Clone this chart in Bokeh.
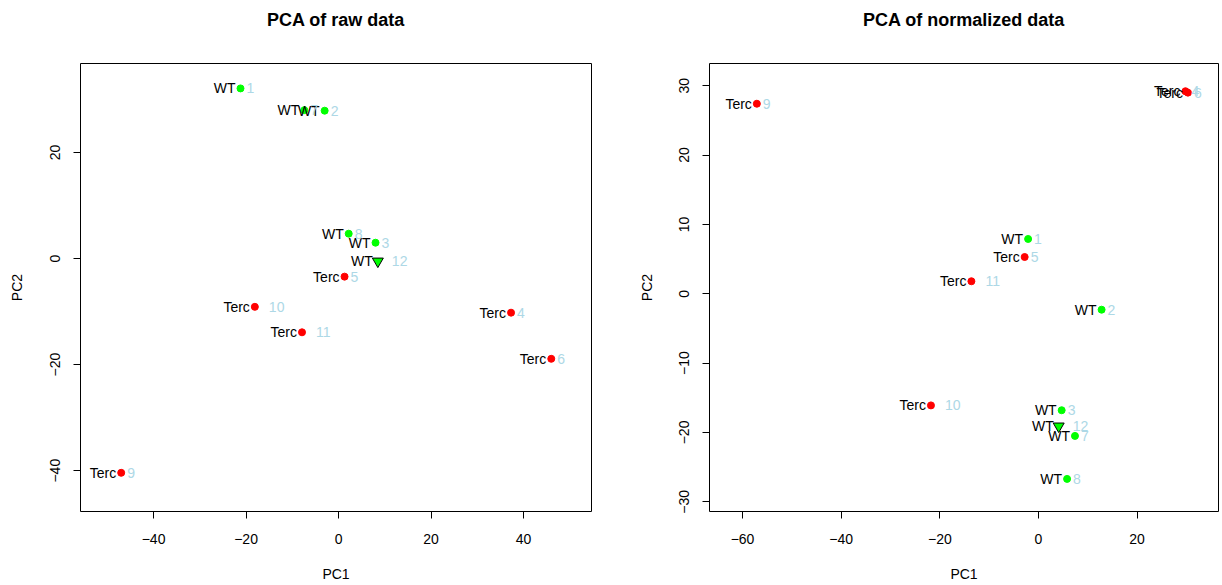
from bokeh.plotting import figure
from bokeh.layouts import row
from bokeh.models import ColumnDataSource, FixedTicker, Range1d, LinearAxis
from bokeh.core.properties import value
from bokeh.embed import file_html
from bokeh.resources import INLINE

# ---- data ----
samples = [1, 2, 3, 4, 5, 6, 7, 8, 9, 10, 11, 12]
groups = ["WT", "WT", "WT", "Terc", "Terc", "Terc", "WT", "WT", "Terc", "Terc", "Terc", "WT"]
markers = ["circle"] * 11 + ["inverted_triangle"]

raw_pc1 = [-21.2, -3.0, 8.0, 37.3, 1.3, 46.0, -7.4, 2.2, -47.0, -18.1, -7.9, 8.5]
raw_pc2 = [32.1, 27.9, 3.0, -10.2, -3.4, -18.9, 28.0, 4.7, -40.4, -9.1, -13.9, -0.5]

norm_pc1 = [-2.1, 12.8, 4.7, 29.8, -2.8, 30.3, 7.4, 5.8, -57.1, -21.8, -13.6, 4.1]
norm_pc2 = [7.9, -2.3, -16.8, 29.2, 5.3, 29.0, -20.5, -26.7, 27.4, -16.1, 1.8, -19.1]

raw_xticks = [-40, -20, 0, 20, 40]
raw_yticks = [-40, -20, 0, 20]
norm_xticks = [-60, -40, -20, 0, 20]
norm_yticks = [-30, -20, -10, 0, 10, 20, 30]

group_colors = {"WT": "#00FF00", "Terc": "#FF0000"}
FONT = "Liberation Sans"


def make_source(xs, ys):
    fill = [group_colors[g] for g in groups]
    line = ["black" if m != "circle" else group_colors[g] for m, g in zip(markers, groups)]
    size = [11 if m != "circle" else 7 for m in markers]
    nums = [str(s) for s in samples]
    num_off = [6 if len(n) == 1 else 14 for n in nums]
    return ColumnDataSource(dict(x=xs, y=ys, grp=groups, num=nums, num_off=num_off,
                                 fill=fill, line=line, size=size, marker=markers))


def make_plot(title, xs, ys, xr, yr, xt, yt, fw, fh, bl, br, ylab_standoff, yaxis_label_standoff):
    p = figure(frame_width=fw, frame_height=fh, x_range=Range1d(*xr), y_range=Range1d(*yr),
               output_backend="svg", toolbar_location=None,
               min_border_left=bl, min_border_right=br, min_border_top=63, min_border_bottom=73)
    p.background_fill_color = "white"
    p.border_fill_color = "white"
    p.outline_line_color = "black"
    p.outline_line_width = 1
    p.grid.visible = False

    xax = p.below[0]
    yax = p.left[0]
    for ax in (xax, yax):
        ax.axis_line_color = None
        ax.major_tick_line_color = "black"
        ax.major_tick_in = 0
        ax.major_tick_out = 7
        ax.minor_tick_line_color = None
        ax.major_label_text_font = FONT
        ax.major_label_text_font_size = "14px"
        ax.major_label_text_color = "black"
        ax.axis_label_text_font = FONT
        ax.axis_label_text_font_size = "14px"
        ax.axis_label_text_font_style = "normal"
        ax.axis_label_text_color = "black"

    xax.ticker = FixedTicker(ticks=xt)
    yax.ticker = FixedTicker(ticks=yt)
    xax.axis_label = "PC1"
    yax.axis_label = "PC2"
    xax.major_label_standoff = 15
    xax.axis_label_standoff = 19
    yax.major_label_orientation = "vertical"
    yax.major_label_standoff = ylab_standoff
    yax.axis_label_standoff = yaxis_label_standoff

    # title drawn as the label of a tick-less axis above the frame
    title_axis = LinearAxis(ticker=FixedTicker(ticks=[]), axis_label=title,
                            axis_line_color=None, major_tick_line_color=None,
                            minor_tick_line_color=None, major_tick_out=0, major_tick_in=0,
                            minor_tick_out=0, minor_tick_in=0, major_label_standoff=0,
                            major_label_text_font_size="0px",
                            axis_label_standoff=34,
                            axis_label_text_font=FONT, axis_label_text_font_size="18px",
                            axis_label_text_font_style="bold", axis_label_text_color="black")
    p.add_layout(title_axis, "above")

    src = make_source(xs, ys)
    p.scatter("x", "y", source=src, marker="marker", size="size",
              fill_color="fill", line_color="line", line_width=1)
    p.text("x", "y", text="grp", source=src, text_align="right", text_baseline="middle",
           x_offset=-5, text_font=value(FONT), text_font_size="14px", text_color="black")
    p.text("x", "y", text="num", source=src, text_align="left", text_baseline="middle",
           x_offset="num_off", text_font=value(FONT), text_font_size="14px",
           text_color="#ADD8E6")
    return p


p1 = make_plot("PCA of raw data", raw_pc1, raw_pc2, (-55.8, 54.7), (-47.7, 36.8),
               raw_xticks, raw_yticks, 511, 448, 80, 29, 13, 23)
p2 = make_plot("PCA of normalized data", norm_pc1, norm_pc2, (-66.7, 36.5), (-31.4, 33.2),
               norm_xticks, norm_yticks, 509, 448, 89, 3, 13, 22)

layout = row(p1, p2, spacing=0)
open("out.html", "w").write(file_html(layout, INLINE))
